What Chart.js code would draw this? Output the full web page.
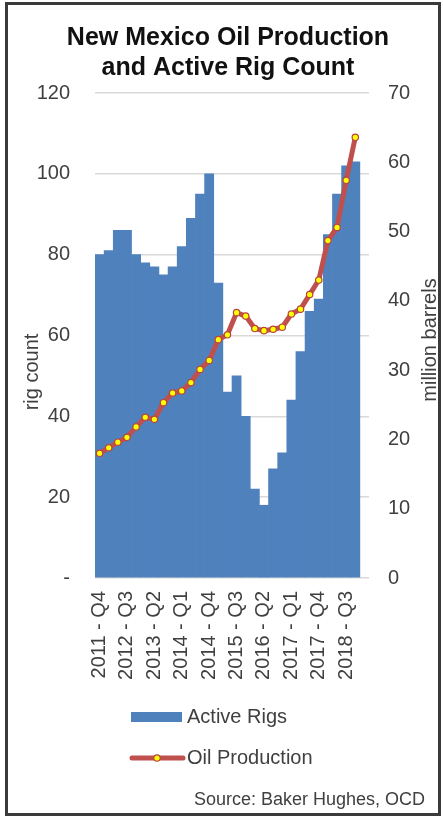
<!DOCTYPE html>
<html>
<head>
<meta charset="utf-8">
<script src="https://cdn.jsdelivr.net/npm/chart.js@4.4.1/dist/chart.umd.min.js"></script>
<style>
  html, body { margin: 0; padding: 0; background: #fff; }
  #wrap { position: absolute; left: 0; top: 0; width: 443px; height: 816px; }
  #frame { position: absolute; left: 5px; top: 2px; width: 430px; height: 808px;
           border: 3px solid #3a3a3a; pointer-events: none; }
</style>
</head>
<body>
<div id="wrap">
  <canvas id="chart" width="443" height="816"></canvas>
  <div id="frame"></div>
</div>
<script>
const quarters = [
  '2011 - Q4',
  '2012 - Q1', '2012 - Q2', '2012 - Q3', '2012 - Q4',
  '2013 - Q1', '2013 - Q2', '2013 - Q3', '2013 - Q4',
  '2014 - Q1', '2014 - Q2', '2014 - Q3', '2014 - Q4',
  '2015 - Q1', '2015 - Q2', '2015 - Q3', '2015 - Q4',
  '2016 - Q1', '2016 - Q2', '2016 - Q3', '2016 - Q4',
  '2017 - Q1', '2017 - Q2', '2017 - Q3', '2017 - Q4',
  '2018 - Q1', '2018 - Q2', '2018 - Q3', '2018 - Q4',
  '2019 - Q1'
];

// rig count (left axis)
const activeRigs = [80, 81, 86, 86, 80, 78, 77, 75, 77, 82, 89, 95, 100,
  73, 46, 50, 40, 22, 18, 27, 31, 44, 56, 66, 69, 85, 95, 102, 103, null];

// million barrels (right axis)
const oilProduction = [18.0, 18.8, 19.6, 20.3, 21.8, 23.2, 22.9, 25.3, 26.7, 27.0,
  28.2, 30.1, 31.4, 34.4, 35.1, 38.3, 37.8, 36.0, 35.7, 35.9, 36.2, 38.1, 38.8,
  40.9, 43.0, 48.7, 50.6, 57.4, 63.6, null];

const rigTicks = [0, 20, 40, 60, 80, 100, 120];
const barrelTicks = [0, 10, 20, 30, 40, 50, 60, 70];

const BLUE = '#4F81BD';
const RED = '#C0504D';
const TEXT = '#404040';
const FONT = '"Liberation Sans", Arial, sans-serif';

// draws the axis titles, legend and source note
const extras = {
  id: 'extras',
  afterDraw(chart) {
    const ctx = chart.ctx;
    ctx.save();
    ctx.fillStyle = TEXT;
    ctx.font = '20px ' + FONT;
    ctx.textAlign = 'center';
    ctx.textBaseline = 'middle';

    // axis titles, both read bottom to top
    ctx.save();
    ctx.translate(32, 372);
    ctx.rotate(-Math.PI / 2);
    ctx.fillText('rig count', 0, 0);
    ctx.restore();

    ctx.save();
    ctx.translate(430, 340);
    ctx.rotate(-Math.PI / 2);
    ctx.fillText('million barrels', 0, 0);
    ctx.restore();

    // legend
    ctx.textAlign = 'left';
    ctx.fillStyle = BLUE;
    ctx.fillRect(131, 712, 51, 10);
    ctx.fillStyle = TEXT;
    ctx.fillText('Active Rigs', 187, 717);

    ctx.strokeStyle = RED;
    ctx.lineWidth = 5;
    ctx.lineCap = 'round';
    ctx.beginPath();
    ctx.moveTo(132, 758);
    ctx.lineTo(183, 758);
    ctx.stroke();
    ctx.beginPath();
    ctx.arc(157, 758, 3.2, 0, Math.PI * 2);
    ctx.fillStyle = '#FFFF00';
    ctx.fill();
    ctx.lineWidth = 1.2;
    ctx.strokeStyle = '#B8433F';
    ctx.stroke();
    ctx.fillStyle = TEXT;
    ctx.fillText('Oil Production', 187, 758);

    // source
    ctx.font = '18px ' + FONT;
    ctx.textAlign = 'right';
    ctx.fillText('Source: Baker Hughes, OCD', 425, 800);
    ctx.restore();
  }
};

new Chart(document.getElementById('chart'), {
  type: 'bar',
  data: {
    labels: quarters,
    datasets: [{
      type: 'bar',
      label: 'Active Rigs',
      data: activeRigs,
      yAxisID: 'y',
      backgroundColor: BLUE,
      borderWidth: 0,
      barPercentage: 1,
      categoryPercentage: 1,
      order: 2
    }, {
      type: 'line',
      label: 'Oil Production',
      data: oilProduction,
      yAxisID: 'y1',
      borderColor: RED,
      borderWidth: 5,
      tension: 0,
      pointRadius: 3.2,
      pointBorderWidth: 1.2,
      pointBackgroundColor: '#FFFF00',
      pointBorderColor: '#B8433F',
      order: 1
    }]
  },
  options: {
    responsive: false,
    animation: false,
    layout: { padding: { top: 23, left: 37, right: 24, bottom: 128 } },
    plugins: {
      legend: { display: false },
      tooltip: { enabled: false },
      title: {
        display: true,
        text: ['New Mexico Oil Production', 'and Active Rig Count'],
        color: '#111',
        font: { family: FONT, size: 25, weight: 'bold', lineHeight: 1.2 },
        padding: { top: 0, bottom: 10 }
      }
    },
    scales: {
      x: {
        grid: { display: false, drawTicks: false },
        border: { display: false },
        afterFit(s) { s.height = 110; },
        ticks: {
          autoSkip: false,
          minRotation: 90,
          maxRotation: 90,
          padding: 13,
          color: TEXT,
          font: { family: FONT, size: 20 },
          callback(v, i) { return i % 3 === 0 ? quarters[i] : ''; }
        }
      },
      y: {
        position: 'left',
        min: 0,
        max: 120,
        afterFit(s) { s.width = 58; },
        afterBuildTicks(s) { s.ticks = rigTicks.map(v => ({ value: v })); },
        grid: { color: '#D9D9D9', lineWidth: 1.5, drawTicks: false },
        border: { display: false },
        ticks: {
          padding: 25,
          color: TEXT,
          font: { family: FONT, size: 20 },
          callback(v) { return v === 0 ? '-' : v; }
        }
      },
      y1: {
        position: 'right',
        min: 0,
        max: 70,
        afterFit(s) { s.width = 50; },
        afterBuildTicks(s) { s.ticks = barrelTicks.map(v => ({ value: v })); },
        grid: { display: false, drawTicks: false },
        border: { display: false },
        ticks: {
          padding: 19,
          color: TEXT,
          font: { family: FONT, size: 20 }
        }
      }
    }
  },
  plugins: [extras]
});
</script>
</body>
</html>
